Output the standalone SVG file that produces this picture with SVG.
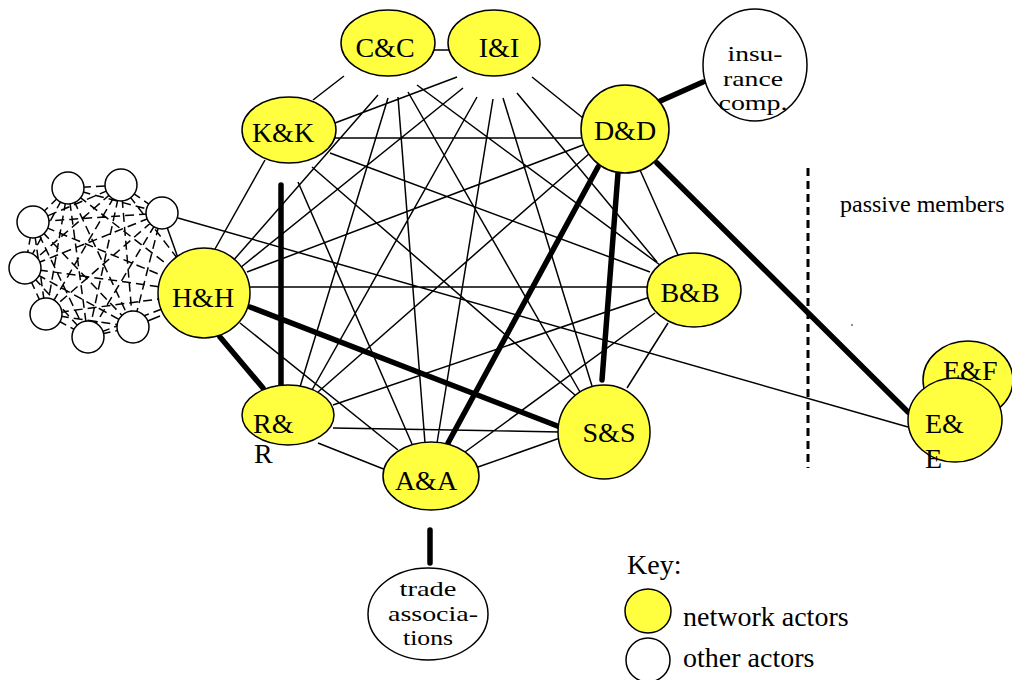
<svg xmlns="http://www.w3.org/2000/svg" width="1012" height="680" viewBox="0 0 1012 680">
<style>
.n{fill:#ffff40;stroke:#000;stroke-width:1.5}
.o{fill:#fff;stroke:#000;stroke-width:1.5}
.t{font-family:"Liberation Serif","Times New Roman",serif;font-size:28px;fill:#000}
.s{font-size:22px}
.m{text-anchor:middle}
.l{stroke:#000;stroke-width:1.5;fill:none}
.k{stroke:#000;stroke-width:5.5;fill:none;stroke-linecap:round}
.d{stroke:#000;stroke-width:1.5;fill:none;stroke-dasharray:9 5}
</style>
<rect width="1012" height="680" fill="#fff"/>
<g id="connectors">
<g id="cluster-links">
<path class="d" d="M68,188L121,185M68,188L162,213M68,188L33,222M68,188L25,268M68,188L46,314M68,188L88,337M68,188L133,327
M121,185L162,213M121,185L33,222M121,185L25,268M121,185L46,314M121,185L88,337M121,185L133,327
M162,213L33,222M162,213L25,268M162,213L46,314M162,213L88,337M162,213L133,327
M33,222L25,268M33,222L46,314M33,222L88,337M33,222L133,327
M25,268L46,314M25,268L88,337M25,268L133,327
M46,314L88,337M46,314L133,327M88,337L133,327
M68,188L204,293M121,185L204,293M33,222L204,293M25,268L204,293M46,314L204,293M88,337L204,293"/>
<path class="l" d="M162,213L178,258M133,327L160,316"/>
</g>
<path class="l" d="M430,50L450,50
M344,76L313,100
M378,95L232,262
M417,85L660,265
M388,98L300,387
M408,92L580,392
M398,97L425,443
M457,77L327,126
M532,77L583,118
M463,88L240,268
M517,93L657,262
M477,97L312,390
M503,98L592,386
M493,99L437,443
M327,138L581,138
M265,160L215,249
M330,153L650,272
M312,167L575,395
M298,182L412,444
M583,145L247,272
M590,153L318,392
M640,170L678,255
M250,287L647,287
M240,323L398,450
M178,218L908,427
M333,405L650,297
M627,388L668,323
M465,452L655,313
M333,428L560,432
M318,443L386,470
M478,467L560,438"/>
<path class="k" d="M658,102L703,82M430,530L430,563M281,185L281,385M220,337L263,388M250,307L560,427M598,167L448,443M618,173L602,380M657,163L908,412"/>
<path d="M808,168L808,468" stroke="#000" stroke-width="3" stroke-dasharray="8 5"/>
</g>
<g id="cluster">
<circle class="o" cx="68" cy="188" r="16"/>
<circle class="o" cx="121" cy="185" r="16"/>
<circle class="o" cx="162" cy="213" r="16"/>
<circle class="o" cx="33" cy="222" r="16"/>
<circle class="o" cx="25" cy="268" r="16"/>
<circle class="o" cx="46" cy="314" r="16"/>
<circle class="o" cx="88" cy="337" r="16"/>
<circle class="o" cx="133" cy="327" r="16"/>
</g>
<g id="CC"><ellipse class="n" cx="388" cy="43" rx="47" ry="33"/><text class="t m" x="385" y="57">C&amp;C</text></g>
<g id="II"><ellipse class="n" cx="494" cy="43" rx="46" ry="33"/><text class="t m" x="499" y="57">I&amp;I</text></g>
<g id="KK"><ellipse class="n" cx="289" cy="130" rx="47" ry="33"/><text class="t m" x="283" y="142">K&amp;K</text></g>
<g id="DD"><ellipse class="n" cx="625" cy="129" rx="44" ry="44"/><text class="t m" x="625" y="140">D&amp;D</text></g>
<g id="insurance"><ellipse class="o" cx="755" cy="65" rx="52" ry="56"/>
<text class="t s m" x="755" y="61" textLength="55" lengthAdjust="spacingAndGlyphs">insu-</text>
<text class="t s m" x="753" y="85.5" textLength="60" lengthAdjust="spacingAndGlyphs">rance</text>
<text class="t s m" x="753" y="110" textLength="69" lengthAdjust="spacingAndGlyphs">comp.</text></g>
<g id="HH"><ellipse class="n" cx="204" cy="293" rx="46" ry="45"/><text class="t m" x="203" y="307">H&amp;H</text></g>
<g id="BB"><ellipse class="n" cx="694" cy="290" rx="47" ry="37"/><text class="t m" x="690" y="302">B&amp;B</text></g>
<g id="RR"><ellipse class="n" cx="288" cy="415" rx="46" ry="30"/><text class="t" x="253" y="433">R&amp;</text><text class="t" x="254" y="463">R</text></g>
<g id="SS"><ellipse class="n" cx="604" cy="432" rx="46" ry="47"/><text class="t m" x="609" y="442">S&amp;S</text></g>
<g id="AA"><ellipse class="n" cx="431" cy="476" rx="48" ry="34"/><text class="t m" x="426" y="490">A&amp;A</text></g>
<g id="trade"><ellipse class="o" cx="428" cy="614" rx="60" ry="46"/>
<text class="t s m" x="428" y="596" textLength="57" lengthAdjust="spacingAndGlyphs">trade</text>
<text class="t s m" x="433" y="620.5" textLength="90" lengthAdjust="spacingAndGlyphs">associa-</text>
<text class="t s m" x="428" y="645" textLength="50" lengthAdjust="spacingAndGlyphs">tions</text></g>
<g id="EF"><ellipse class="n" cx="968" cy="380" rx="45" ry="39"/><text class="t" x="943" y="380">E&amp;F</text></g>
<g id="EE"><ellipse class="n" cx="955" cy="420" rx="47" ry="42"/><text class="t" x="925" y="433">E&amp;</text><text class="t" x="925" y="468">E</text></g>
<text class="t" x="840" y="212" style="font-size:24px">passive members</text>
<circle cx="852" cy="325" r="0.8" fill="#000"/>
<g id="key">
<text class="t" x="627" y="574">Key:</text>
<ellipse class="n" cx="648" cy="611" rx="23" ry="22"/>
<text class="t" x="683" y="626">network actors</text>
<ellipse class="o" cx="648" cy="660" rx="22" ry="22"/>
<text class="t" x="683" y="667">other actors</text>
</g>
</svg>
